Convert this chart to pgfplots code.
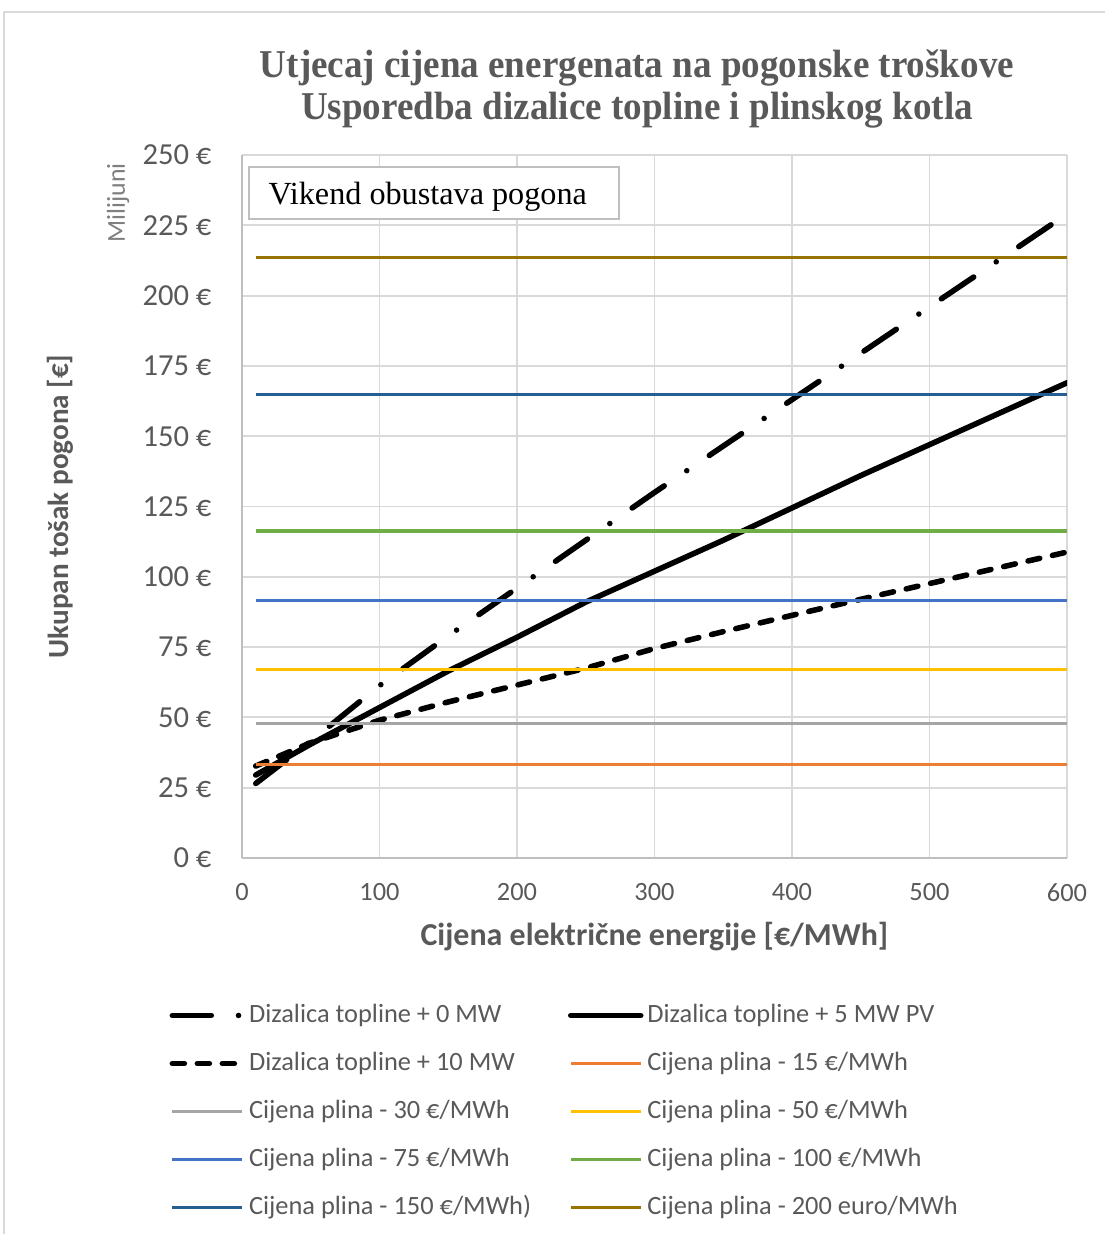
\documentclass[border=0pt]{standalone}
\usepackage{pgfplots}
\pgfplotsset{compat=1.18}
\usepackage{graphicx}
\usepackage{fontspec}
\setmainfont{Carlito}
\newfontfamily\titlefont{Liberation Serif}

\definecolor{txt}{HTML}{595959}
\definecolor{milgray}{HTML}{7F7F7F}
\definecolor{gridgray}{HTML}{D9D9D9}
\definecolor{axisgray}{HTML}{BFBFBF}
\definecolor{c15}{HTML}{ED7D31}
\definecolor{c30}{HTML}{A5A5A5}
\definecolor{c50}{HTML}{FFC000}
\definecolor{c75}{HTML}{4472C4}
\definecolor{c100}{HTML}{70AD47}
\definecolor{c150}{HTML}{255E91}
\definecolor{c200}{HTML}{997300}

% legend text cell of fixed width, so the two columns line up
\newcommand{\legcell}[1]{\makebox[116.2pt][l]{\hspace{1.4pt}#1}}

\begin{document}
\begin{tikzpicture}
\def\px{0.36pt}
\useasboundingbox (0,0) rectangle ({1105*\px},{-1234*\px});
% outer chart frame (cut off at right and bottom)
\draw[gridgray, line width=0.7pt] ({4*\px},{-1250*\px}) -- ({4*\px},{-12*\px}) -- ({1120*\px},{-12*\px});

\node[font=\titlefont\bfseries\fontsize{14.2}{15.1}\selectfont, text=txt, align=center]
  at ({637*\px},{-89*\px})
  {\scalebox{0.94}[1]{Utjecaj cijena energenata na pogonske troškove}\\
   \scalebox{0.94}[1]{Usporedba dizalice topline i plinskog kotla}};

\begin{axis}[
  at={(87.12pt,-308.88pt)}, anchor=south west,
  scale only axis, width=297pt, height=253.08pt,
  xmin=0, xmax=600, ymin=0, ymax=250,
  xtick={0,100,...,600}, ytick={0,25,...,250},
  axis x line*=bottom, axis y line*=left,
  axis line style={color=axisgray, line width=0.7pt},
  grid=major, major grid style={color=gridgray, line width=0.7pt},
  major tick length=0pt,
  tick label style={font=\fontsize{9.5}{11}\selectfont, text=txt},
  /pgf/number format/assume math mode=true,
  yticklabel={\pgfmathprintnumber{\tick}~€},
  yticklabel style={inner sep=0pt, xshift=-10.8pt, font=\fontsize{11}{13}\selectfont},
  xticklabel style={inner sep=0pt, yshift=-9pt},
  xlabel={Cijena električne energije [€/MWh]},
  ylabel={Ukupan tošak pogona [€]},
  label style={font=\bfseries\fontsize{10.5}{12}\selectfont, text=txt},
  xlabel style={at={(axis description cs:0.5,-0.1124)}, anchor=center,
    font=\bfseries\fontsize{11.5}{13}\selectfont},
  ylabel style={at={(axis description cs:-0.2206,0.5)}, anchor=center},
  legend columns=2,
  legend cell align=left,
  legend style={draw=none, fill=none, at={(axis description cs:-0.0884,-0.205)},
    anchor=north west, inner sep=0pt, row sep=8.1pt, column sep=0pt,
    nodes={inner sep=0pt, text height=7pt, text depth=2.2pt,
      font=\fontsize{9.5}{11}\selectfont, text=txt}},
  legend image code/.code={\draw[#1] (0pt,0pt) -- (25.2pt,0pt);},
]
% heat pump variants
\addplot[black, line width=2pt, line cap=round,
  dash pattern=on 14pt off 9.8pt on 0pt off 9.8pt] coordinates {
  (10,26.5) (50,41.5) (100,61.3) (150,79) (200,96) (250,113) (300,130)
  (350,146.5) (400,163) (450,179.5) (500,196) (550,212.5) (600,229)
};
\addlegendentry{\legcell{Dizalica topline + 0 MW}}
\addplot[black, line width=2pt, line cap=round] coordinates {
  (10,29.5) (50,40.5) (100,53.5) (150,66.5) (200,78.5) (250,91) (300,102)
  (350,113) (400,124.5) (450,136) (500,147) (550,158) (600,169)
};
\addlegendentry{\legcell{Dizalica topline + 5 MW PV}}
\addplot[black, line width=2pt, line cap=round,
  dash pattern=on 4.3pt off 4.7pt] coordinates {
  (10,32.7) (50,41) (100,49) (150,55.5) (200,61.5) (250,67.5) (300,74.5)
  (350,80.5) (400,86.3) (450,92) (500,97.6) (550,103.2) (600,108.8)
};
\addlegendentry{\legcell{Dizalica topline + 10 MW}}
% gas boiler at fixed gas prices
\addplot[c15, line width=1.1pt] coordinates {(10,33.1) (600,33.1)};
\addlegendentry{\legcell{Cijena plina - 15 €/MWh}}
\addplot[c30, line width=1.1pt] coordinates {(10,48.0) (600,48.0)};
\addlegendentry{\legcell{Cijena plina - 30 €/MWh}}
\addplot[c50, line width=1.1pt] coordinates {(10,67.2) (600,67.2)};
\addlegendentry{\legcell{Cijena plina - 50 €/MWh}}
\addplot[c75, line width=1.1pt] coordinates {(10,91.7) (600,91.7)};
\addlegendentry{\legcell{Cijena plina - 75 €/MWh}}
\addplot[c100, line width=1.1pt] coordinates {(10,116.3) (600,116.3)};
\addlegendentry{\legcell{Cijena plina - 100 €/MWh}}
\addplot[c150, line width=1.1pt] coordinates {(10,165.0) (600,165.0)};
\addlegendentry{\legcell{Cijena plina - 150 €/MWh)}}
\addplot[c200, line width=1.1pt] coordinates {(10,213.7) (600,213.7)};
\addlegendentry{\legcell{Cijena plina - 200 euro/MWh}}
\end{axis}

\node[rotate=90, font=\fontsize{9.3}{11}\selectfont, text=milgray]
  at ({118*\px},{-203*\px}) {Milijuni};
\draw[axisgray, line width=0.6pt, fill=white] ({249*\px},{-167*\px}) rectangle ({619*\px},{-219*\px});
\node[anchor=base west, inner sep=0pt, font=\titlefont\fontsize{11.6}{13}\selectfont]
  at ({268*\px},{-205*\px}) {Vikend obustava pogona};
\end{tikzpicture}
\end{document}
